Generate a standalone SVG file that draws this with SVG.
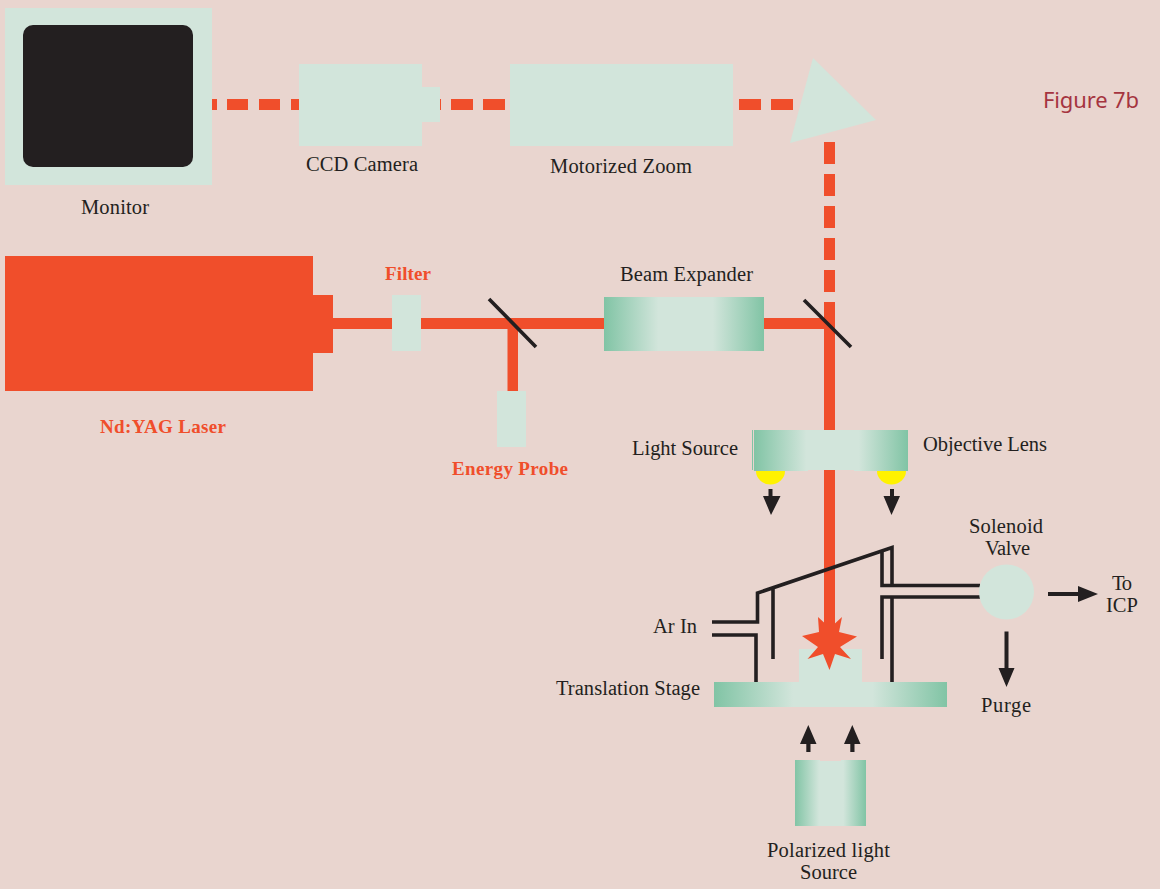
<svg xmlns="http://www.w3.org/2000/svg" width="1160" height="889" viewBox="0 0 1160 889">
<style>
.g{fill:#d2e5db}.r{fill:#f04e2b}.k{fill:#231f20}.y{fill:#fff200}
.w{fill:none;stroke:#231f20;stroke-width:3.6;stroke-linejoin:miter}
text{font-family:"Liberation Serif","Times New Roman",serif;font-size:20.5px;fill:#231f20}
text.b{font-weight:bold;fill:#f04e2b;font-size:19px}
text.f{font-family:"Noto Sans","Open Sans",sans-serif;font-size:22px;fill:#a5343f}
</style>
<defs>
<linearGradient id="lens"><stop offset="0" stop-color="#81c4a5"/><stop offset=".34" stop-color="#d2e5db"/><stop offset=".68" stop-color="#d2e5db"/><stop offset="1" stop-color="#81c4a5"/></linearGradient>
</defs>
<rect width="1160" height="889" fill="#e9d5cf"/>
<g id="connectors">
<g class="r">
<rect x="212" y="99" width="5" height="11"/><rect x="227" y="99" width="21" height="11"/><rect x="259" y="99" width="21" height="11"/><rect x="291" y="99" width="8" height="11"/>
<rect x="440" y="99" width="1" height="11"/><rect x="451" y="99" width="22" height="11"/><rect x="483" y="99" width="22" height="11"/>
<rect x="739" y="99" width="22" height="11"/><rect x="771" y="99" width="22" height="11"/>
<rect x="824" y="142" width="11" height="22"/><rect x="824" y="174" width="11" height="22"/><rect x="824" y="206" width="11" height="22"/><rect x="824" y="238" width="11" height="22"/><rect x="824" y="270" width="11" height="22"/>
<rect x="824" y="302" width="11" height="340"/>
<rect x="333" y="318" width="491" height="11"/>
<rect x="507.500" y="329" width="10.500" height="62"/>
</g>
<g class="w">
<path d="M489 299L536 347M804 300L851 347"/>
<path d="M712 622H757.500V593L892 547.500V585.500H882V552M892 585.500H980M712 635H756V682M980 597H882V659M892 597V682M773 589V659"/>
</g>
<g class="k">
<path id="arrow-light-1" d="M768.500 489h4v7h8l-9.500 19-8-19h5.500z"/>
<path id="arrow-light-2" d="M890 489h4v7h6l-8.500 19-8-19h6.500z"/>
<path id="arrow-icp" d="M1048 592h30v-6l20 8-20 8v-6h-30z"/>
<path id="arrow-purge" d="M1004.500 631.500h4v36.500h6l-8 19-8-19h6z"/>
<path id="arrow-up-1" d="M806.300 752v-8h-6.300l8.300-19 8.200 19h-6v8z"/>
<path id="arrow-up-2" d="M850.300 752v-8h-6.300l8.300-19 8.200 19h-6v8z"/>
</g>
</g>
<g id="monitor"><rect class="g" x="5" y="8" width="207" height="177"/><rect class="k" x="23" y="25" width="170" height="142" rx="10"/><text x="81" y="214" textLength="68">Monitor</text></g>
<g id="ccd-camera"><rect class="g" x="299" y="64" width="123" height="82"/><rect class="g" x="422" y="87" width="18" height="35"/><text x="306" y="171" textLength="112">CCD Camera</text></g>
<g id="motorized-zoom"><rect class="g" x="510" y="64" width="223" height="82"/><text x="550" y="173" textLength="142">Motorized Zoom</text></g>
<g id="prism"><polygon class="g" points="813,58 876,120 790,143"/></g>
<text class="f" x="1043" y="108" textLength="96">Figure 7b</text>
<g id="laser"><rect class="r" x="5" y="256" width="308" height="135"/><rect class="r" x="313" y="295" width="20" height="58"/><text class="b" x="100" y="433" textLength="126">Nd:YAG Laser</text></g>
<g id="filter"><rect class="g" x="392" y="295" width="29" height="56"/><text class="b" x="385" y="280" textLength="46">Filter</text></g>
<g id="energy-probe"><rect class="g" x="497" y="391" width="29" height="56"/><text class="b" x="452" y="475" textLength="116">Energy Probe</text></g>
<g id="beam-expander"><rect fill="url(#lens)" x="604" y="297" width="160" height="54"/><text x="620" y="281" textLength="133">Beam Expander</text></g>
<g id="light-source"><ellipse class="y" cx="770.500" cy="471" rx="14.500" ry="13.500"/><ellipse class="y" cx="891.500" cy="471" rx="14.500" ry="13.500"/><rect x="752" y="430" width="1" height="40" fill="#81c4a5"/><text x="632" y="455" textLength="106">Light Source</text></g>
<g id="objective-lens"><path fill="url(#lens)" d="M754 430H908V471H854V470H808V471H754z"/><text x="923" y="451" textLength="124">Objective Lens</text></g>
<g id="translation-stage"><rect class="g" x="799" y="649" width="63" height="33"/><rect fill="url(#lens)" x="714" y="682" width="233" height="25"/><text x="556" y="695" textLength="144">Translation Stage</text></g>
<g id="spark"><polygon class="r" points="818,617 830,628 842,617 839,632 857,636.600 840,647 851,659 835,654 829.500,670 823,654 807.500,659 818,647 802,636 819,632"/></g>
<g id="solenoid-valve"><circle class="g" cx="1006.500" cy="592" r="27.500"/><text x="969" y="533" textLength="74">Solenoid</text><text x="985" y="555" textLength="45">Valve</text></g>
<g id="icp"><text x="1112" y="590" textLength="20">To</text><text x="1106" y="612" textLength="32">ICP</text></g>
<g id="ar-in"><text x="653" y="633" textLength="44">Ar In</text></g>
<g id="purge"><text x="981" y="712" textLength="50">Purge</text></g>
<g id="polarized-light-source"><path fill="url(#lens)" d="M795 760H820V761H841V760H866V826H795z"/><text x="767" y="857" textLength="123">Polarized light</text><text x="800" y="879" textLength="57">Source</text></g>
</svg>
